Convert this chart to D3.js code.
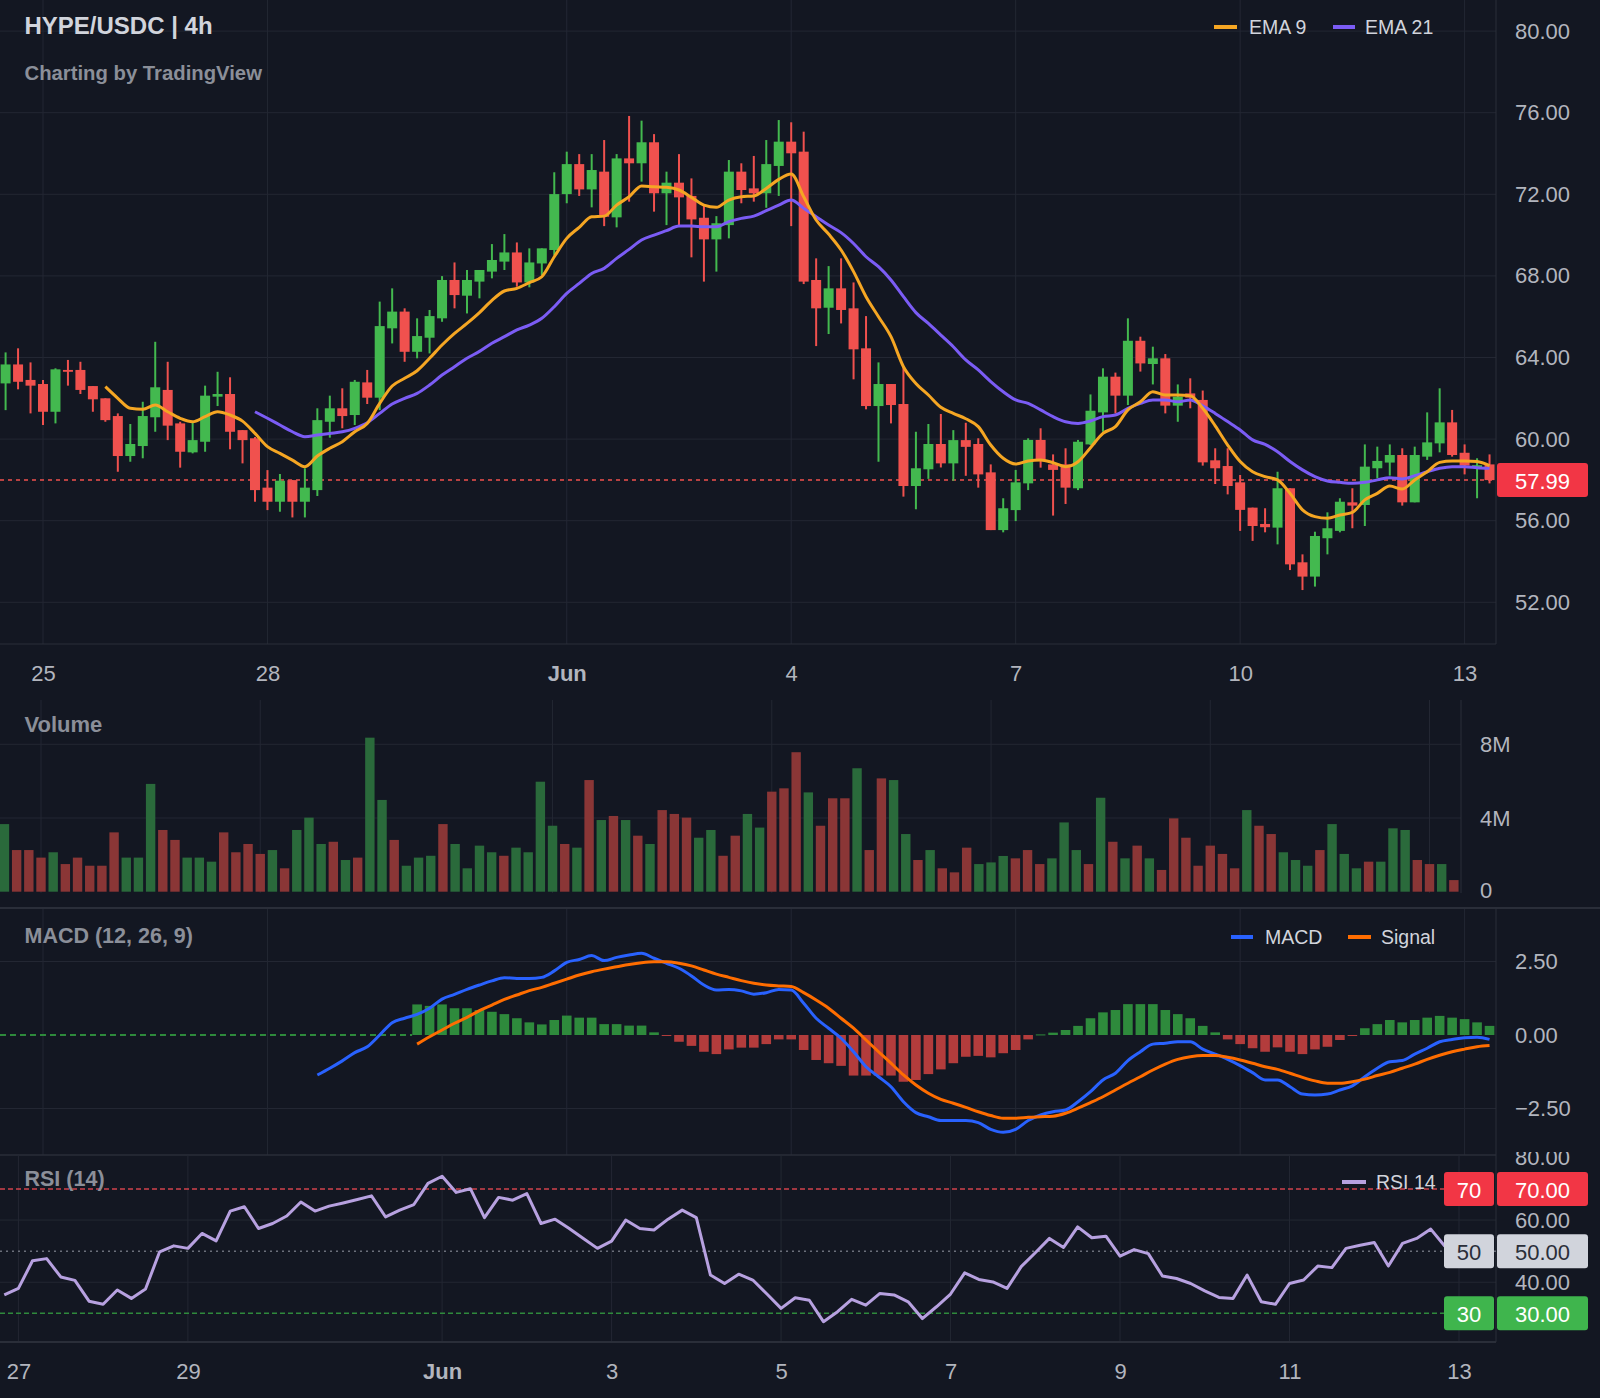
<!DOCTYPE html>
<html><head><meta charset="utf-8">
<script src="https://cdn.jsdelivr.net/npm/d3@7"></script>
<style>body{margin:0;background:#131722;}svg{display:block}</style>
</head><body><svg id="c" width="1600" height="1398"></svg>
<script>
// ---------------- DATA ----------------
// 4h candles, first bar = 2025-05-24 12:00 UTC
const open = [62.73,63.66,62.90,62.70,61.34,63.39,63.39,62.60,62.00,61.13,
59.17,59.66,61.07,62.41,60.77,59.35,59.87,62.08,62.21,60.44,
60.04,57.62,56.93,57.99,56.93,57.50,60.85,61.51,61.18,62.78,
62.03,65.43,66.25,64.28,64.97,65.92,67.80,67.03,67.72,68.21,
68.70,69.15,67.68,68.61,69.27,72.01,73.48,72.24,73.11,70.87,
73.76,73.52,74.55,72.05,72.57,71.92,70.85,69.79,70.49,73.11,
72.29,72.05,73.39,74.58,74.09,67.80,66.44,67.39,66.41,64.45,
61.62,62.70,61.72,57.70,58.52,59.76,58.81,59.95,59.76,58.37,
55.54,56.52,57.83,59.96,58.76,58.76,57.59,59.74,61.31,63.06,
62.13,64.82,63.68,63.96,61.64,62.24,61.92,58.96,58.68,57.88,
56.64,55.84,55.66,57.59,53.96,53.26,55.14,55.50,56.90,56.77,
58.57,58.85,59.22,56.90,59.14,59.79,60.82,59.33,58.60,58.76];
const high = [64.25,64.45,63.76,62.90,63.47,63.88,63.79,62.60,62.00,61.26,
60.74,61.83,64.77,63.79,60.85,60.82,62.62,63.30,63.03,60.44,
60.10,58.48,58.29,57.99,58.57,61.51,62.13,62.49,62.90,63.39,
66.74,67.39,66.41,65.92,66.33,67.99,68.66,68.29,68.29,69.56,
70.05,69.64,69.35,69.35,73.08,74.09,73.97,73.97,74.66,73.97,
75.84,75.61,74.95,73.11,73.97,72.78,71.47,70.93,73.68,73.52,
73.88,74.66,75.64,75.53,75.07,68.86,68.48,68.86,67.68,66.03,
63.76,62.70,63.58,60.36,60.74,61.23,60.44,60.80,60.04,58.76,
57.10,58.49,60.04,60.53,59.25,59.55,59.96,62.19,63.47,63.26,
65.92,65.02,64.53,64.17,62.68,62.98,62.38,59.55,59.55,58.24,
56.64,56.61,58.40,57.59,54.35,55.46,56.41,57.10,57.59,59.74,
59.63,59.74,59.55,59.63,61.31,62.49,61.43,59.74,59.06,59.25];
const low = [61.42,62.44,61.26,60.69,60.77,62.62,62.21,61.34,60.85,58.40,
58.89,59.06,60.36,59.95,58.60,59.30,59.38,61.62,59.50,58.81,
56.93,56.52,56.44,56.16,56.16,57.21,60.07,60.53,60.69,61.72,
61.42,64.69,63.79,63.96,64.20,65.75,66.41,66.16,66.90,67.88,
68.29,67.47,67.44,68.04,69.02,71.56,71.92,71.36,70.44,70.38,
71.64,72.62,71.15,70.49,70.44,68.91,67.72,68.21,69.84,71.56,
71.64,71.34,71.92,70.44,67.60,64.56,65.15,65.67,62.93,61.46,
58.89,60.77,57.18,56.56,58.05,58.61,57.96,58.20,57.62,55.54,
55.43,55.98,57.50,58.60,56.25,56.82,57.50,59.71,60.36,61.26,
61.67,63.31,62.68,61.26,60.85,61.51,58.70,57.80,57.29,55.50,
55.01,55.43,54.84,53.58,52.60,52.77,54.35,55.43,55.63,55.74,
58.08,58.21,56.74,56.90,58.98,59.35,59.14,58.27,57.10,57.83];
const close = [63.66,62.81,62.62,61.34,63.42,63.30,62.41,61.95,60.93,59.17,
59.76,61.13,62.54,60.66,59.38,59.95,62.13,62.21,60.36,59.95,
57.50,56.93,57.96,56.93,57.62,60.93,61.51,61.13,62.81,62.03,
65.54,66.25,64.28,65.05,66.03,67.80,67.06,67.80,68.29,68.78,
69.15,67.68,68.66,69.35,72.01,73.48,72.24,73.19,70.90,73.76,
73.52,74.55,72.05,72.57,71.85,70.77,69.79,70.58,73.11,72.21,
72.05,73.48,74.58,74.01,67.72,66.41,67.39,66.33,64.40,61.62,
62.70,61.67,57.70,58.57,59.76,58.81,59.95,59.62,58.27,55.54,
56.61,57.88,59.96,58.93,58.49,57.62,59.87,61.39,63.06,62.13,
64.82,63.71,63.96,61.64,62.08,62.03,58.86,58.57,57.70,56.53,
55.74,55.68,57.59,53.86,53.26,55.25,55.63,56.93,56.74,58.65,
58.93,59.22,56.90,59.22,59.84,60.82,59.22,58.70,58.72,57.99];
// volume in millions
const volume = [3.67,2.26,2.26,1.85,2.14,1.50,1.85,1.41,1.41,3.22,
1.85,1.85,5.85,3.35,2.81,1.85,1.85,1.63,3.22,2.14,
2.59,2.05,2.26,1.27,3.35,4.02,2.59,2.71,1.72,1.85,
8.36,4.98,2.81,1.41,1.85,1.95,3.67,2.59,1.27,2.50,
2.14,1.95,2.39,2.14,5.97,3.58,2.59,2.39,6.06,3.89,
4.11,3.89,3.04,2.59,4.43,4.22,4.02,2.93,3.35,1.95,
3.04,4.22,3.48,5.43,5.61,7.57,5.39,3.58,5.07,5.07,
6.70,2.26,6.15,6.06,3.13,1.72,2.26,1.27,1.05,2.39,
1.50,1.59,1.94,1.81,2.26,1.50,1.81,3.76,2.26,1.50,
5.10,2.71,1.81,2.50,1.81,1.18,3.98,2.93,1.41,2.50,
2.05,1.27,4.43,3.58,3.13,2.14,1.72,1.41,2.26,3.67,
2.05,1.27,1.63,1.63,3.44,3.35,1.72,1.50,1.50,0.63];
const lastPrice = 57.99;
// EMA 9 starts at bar 8, EMA 21 at bar 20
const ema9Start = 8;
const ema9 = [62.57,62.00,61.51,61.46,61.67,61.34,61.02,60.85,61.10,61.34,
61.18,60.88,60.28,59.63,59.30,58.97,58.65,59.17,59.55,59.87,
60.36,60.77,61.75,62.60,62.98,63.35,63.96,64.61,65.18,65.67,
66.20,66.80,67.26,67.39,67.67,67.96,68.94,69.84,70.38,70.90,
70.93,71.47,71.88,72.41,72.37,72.34,72.21,71.85,71.47,71.36,
71.72,71.88,71.92,72.29,72.73,72.99,71.88,70.74,70.05,69.27,
68.21,66.98,66.00,65.02,63.55,62.73,62.16,61.56,61.26,61.00,
60.61,59.71,59.06,58.78,58.93,58.98,58.84,58.65,58.89,59.58,
60.28,60.61,61.43,61.83,62.32,62.16,62.16,62.13,61.51,60.65,
59.71,58.90,58.40,58.16,58.00,57.34,56.53,56.20,56.12,56.28,
56.41,57.02,57.34,57.70,57.55,58.00,58.40,58.86,58.93,58.93,
58.90,58.70];
const ema21Start = 20;
const ema21 = [61.34,61.02,60.69,60.36,60.12,60.20,60.28,60.36,60.53,60.80,
61.26,61.72,62.00,62.24,62.65,63.14,63.55,63.96,64.30,64.70,
65.02,65.35,65.59,65.92,66.49,67.14,67.63,68.12,68.37,68.86,
69.30,69.76,70.00,70.22,70.44,70.44,70.41,70.41,70.66,70.82,
70.93,71.20,71.47,71.72,71.31,70.90,70.49,70.12,69.59,68.94,
68.45,67.80,66.98,66.20,65.67,65.10,64.53,63.88,63.39,62.82,
62.32,61.92,61.75,61.43,61.10,60.85,60.77,60.89,61.10,61.18,
61.51,61.75,61.92,61.92,61.83,61.92,61.63,61.26,60.86,60.45,
59.96,59.74,59.38,58.90,58.49,58.16,57.95,57.88,57.83,57.88,
58.00,58.11,58.05,58.21,58.40,58.57,58.65,58.65,58.60,58.57];
// MACD (12,26,9)
const macdStart = 25;
const macdLine = [-1.36,-1.13,-0.88,-0.60,-0.40,0.00,0.42,0.57,0.70,0.91,
1.22,1.38,1.55,1.70,1.84,1.95,1.92,1.92,1.96,2.18,
2.47,2.57,2.70,2.53,2.64,2.72,2.78,2.61,2.44,2.27,
2.01,1.70,1.53,1.55,1.50,1.39,1.44,1.55,1.53,
1.08,0.57,0.23,-0.11,-0.57,-1.08,-1.42,-1.76,-2.27,-2.64,
-2.78,-2.91,-2.91,-2.91,-2.98,-3.21,-3.31,-3.21,-2.91,-2.72,
-2.61,-2.55,-2.27,-1.93,-1.53,-1.30,-0.87,-0.57,-0.31,-0.28,
-0.23,-0.23,-0.48,-0.65,-0.83,-1.04,-1.28,-1.53,-1.53,-1.76,
-2.01,-2.04,-2.01,-1.87,-1.73,-1.42,-1.13,-0.91,-0.87,-0.65,
-0.45,-0.23,-0.15,-0.09,-0.08,-0.15];
const signalStart = 33;
const signalLine = [-0.31,-0.06,0.17,0.40,0.60,0.83,1.02,1.21,1.36,1.51,
1.62,1.76,1.90,2.04,2.15,2.24,2.32,2.40,2.46,2.49,
2.49,2.44,2.35,2.21,2.07,1.96,1.85,1.76,1.70,1.67,1.65,
1.44,1.19,0.91,0.57,0.23,-0.17,-0.57,-0.96,-1.36,-1.70,
-1.98,-2.19,-2.32,-2.46,-2.61,-2.74,-2.83,-2.83,-2.80,-2.78,
-2.76,-2.66,-2.49,-2.30,-2.10,-1.87,-1.64,-1.42,-1.19,-0.99,
-0.83,-0.74,-0.70,-0.70,-0.76,-0.85,-0.96,-1.08,-1.17,-1.30,
-1.44,-1.56,-1.64,-1.64,-1.59,-1.50,-1.38,-1.27,-1.13,-0.99,
-0.83,-0.69,-0.57,-0.48,-0.40,-0.36];
const histStart = 33;
const histogram = [1.04,0.99,1.04,0.91,0.91,0.85,0.79,0.71,0.57,0.43,
0.36,0.51,0.66,0.59,0.59,0.37,0.37,0.32,0.32,0.09,
-0.03,-0.23,-0.37,-0.57,-0.65,-0.49,-0.43,-0.43,-0.31,-0.15,
-0.15,-0.51,-0.85,-0.96,-1.05,-1.38,-1.38,-1.38,-1.38,-1.59,
-1.53,-1.33,-1.17,-0.96,-0.74,-0.71,-0.76,-0.62,-0.51,-0.15,
0.02,0.08,0.17,0.31,0.57,0.77,0.85,1.05,1.05,1.05,
0.85,0.71,0.57,0.31,0.09,-0.15,-0.31,-0.45,-0.57,-0.42,
-0.57,-0.65,-0.49,-0.40,-0.17,-0.03,0.23,0.37,0.51,0.43,
0.51,0.59,0.65,0.59,0.54,0.43,0.31];
// RSI 14 (own time range, first point 2025-05-26 20:00 UTC)
const rsi = [35.9,38.0,46.9,47.6,41.7,40.6,33.9,32.9,37.5,34.8,
37.8,49.8,51.7,50.9,55.7,53.3,62.9,64.3,57.3,58.9,
61.3,65.8,62.9,64.5,65.5,66.6,67.8,61.0,63.2,65.0,
71.8,74.1,68.9,70.1,60.8,67.3,66.4,68.5,58.9,60.3,
57.3,54.1,50.9,53.2,60.0,57.3,56.8,60.3,63.2,60.8,
42.3,39.6,42.6,40.7,36.2,31.6,35.0,
34.2,27.3,30.5,34.5,32.6,36.4,35.9,33.7,28.3,32.1,
36.2,43.0,40.9,40.1,38.0,45.0,49.5,54.1,51.2,57.8,
54.3,54.8,48.4,50.5,49.2,42.0,41.2,39.6,37.2,35.1,
34.8,42.3,33.7,32.9,39.6,40.7,45.2,44.7,50.9,51.9,
52.8,45.2,52.5,54.1,57.1,51.6];
// ticks
const priceTicks = [52,56,60,64,68,72,76,80];
const volTicks = [0,4,8];
const volTickLabels = ["0","4M","8M"];
const macdTicks = [-2.5,0,2.5];
const rsiTicks = [40,60,80];
const rsiLevels = [70,50,30];
const dayTicks = ["2025-05-25","2025-05-28","2025-06-01","2025-06-04","2025-06-07","2025-06-10","2025-06-13"];
const rsiDayTicks = ["2025-05-27","2025-05-29","2025-06-01","2025-06-03","2025-06-05","2025-06-07","2025-06-09","2025-06-11","2025-06-13"];

// ---------------- SETUP ----------------
const FONT = "'Liberation Sans', Arial, sans-serif";
const AX = 22;
const C = {bg:"#131722", grid:"#232733", border:"#2a2e39", axis:"#b2b5be", label:"#8b8f99",
  title:"#d1d4dc", up:"#43b94f", down:"#f0514e", vup:"#2a6a3b", vdown:"#8a3636",
  ema9:"#f5a623", ema21:"#7b5cf5", macd:"#2962ff", signal:"#ff6d00",
  hup:"#2e8a3c", hdown:"#b33c3c", rsi:"#b7a1e0"};
const H4 = 4*3600*1000;
const firstBar = Date.UTC(2025,4,24,12);
const rsiFirst = Date.UTC(2025,4,26,20);
const barTime = i => new Date(firstBar + i*H4);
const rsiTime = i => new Date(rsiFirst + i*H4);
const toDate = s => new Date(s + "T00:00:00Z");
const fmtTick = d => d.getUTCDate()===1 ? d3.utcFormat("%b")(d) : d3.utcFormat("%-d")(d);

const svg = d3.select("#c");
svg.append("rect").attr("width",1600).attr("height",1398).attr("fill",C.bg);

const dom = [toDate("2025-05-25"), toDate("2025-06-13")];
const xP = d3.scaleUtc().domain(dom).range([43,1464.6]);
const xV = d3.scaleUtc().domain(dom).range([41,1429.5]);
const xR = d3.scaleUtc().domain([toDate("2025-05-27"), toDate("2025-06-13")]).range([18.4,1459]);
const yP = d3.scaleLinear().domain([52,80]).range([602.3,31.1]);
const yV = d3.scaleLinear().domain([0,8]).range([891.7,744.3]);
const yM = d3.scaleLinear().domain([-2.5,2.5]).range([1108.5,961.5]);
const yR = d3.scaleLinear().domain([30,70]).range([1313.3,1189]);

const defs = svg.append("defs");
function clip(id,x,y,w,h){defs.append("clipPath").attr("id",id).append("rect").attr("x",x).attr("y",y).attr("width",w).attr("height",h);}
clip("cp",0,0,1496,644); clip("cv",0,700,1461,193); clip("cm",0,909,1496,245); clip("cr",0,1155,1496,187); clip("cra",1440,1152,160,246);

function hline(g,y,x1,x2,col,w,dash){const l=g.append("line").attr("x1",x1).attr("x2",x2).attr("y1",y).attr("y2",y).attr("stroke",col).attr("stroke-width",w||1);if(dash)l.attr("stroke-dasharray",dash);return l;}
function vline(g,x,y1,y2,col,w){return g.append("line").attr("x1",x).attr("x2",x).attr("y1",y1).attr("y2",y2).attr("stroke",col).attr("stroke-width",w||1);}
function text(g,x,y,s,opt){opt=opt||{};return g.append("text").attr("x",x).attr("y",y).text(s)
  .attr("font-family",FONT).attr("font-size",opt.size||AX).attr("font-weight",opt.weight||"normal")
  .attr("fill",opt.fill||C.axis).attr("text-anchor",opt.anchor||"start").attr("dominant-baseline","central");}

// ---------------- PRICE PANEL ----------------
const gP = svg.append("g");
priceTicks.forEach(p=>hline(gP,yP(p),0,1496,C.grid));
dayTicks.forEach(d=>vline(gP,xP(toDate(d)),0,644,C.grid));
vline(gP,1496,0,644,C.border);
hline(gP,644,0,1496,C.border);
const gPc = gP.append("g").attr("clip-path","url(#cp)");
hline(gPc,yP(lastPrice),0,1496,C.down,1.5,"4,4");
const bars = open.map((o,i)=>({t:barTime(i),o,h:high[i],l:low[i],c:close[i],v:volume[i]}));
const cg = gPc.selectAll("g.candle").data(bars).join("g");
cg.append("line").attr("x1",d=>xP(d.t)).attr("x2",d=>xP(d.t)).attr("y1",d=>yP(d.h)).attr("y2",d=>yP(d.l))
  .attr("stroke",d=>d.c>=d.o?C.up:C.down).attr("stroke-width",2);
cg.append("rect").attr("x",d=>xP(d.t)-5).attr("width",10)
  .attr("y",d=>yP(Math.max(d.o,d.c))).attr("height",d=>Math.max(1.5,Math.abs(yP(d.o)-yP(d.c))))
  .attr("fill",d=>d.c>=d.o?C.up:C.down);
const lineP = off => d3.line().x((d,i)=>xP(barTime(i+off))).y(d=>yP(d)).curve(d3.curveMonotoneX);
gPc.append("path").attr("d",lineP(ema21Start)(ema21)).attr("fill","none").attr("stroke",C.ema21).attr("stroke-width",3);
gPc.append("path").attr("d",lineP(ema9Start)(ema9)).attr("fill","none").attr("stroke",C.ema9).attr("stroke-width",3);

const axP = d3.axisRight(yP).tickValues(priceTicks).tickFormat(d3.format(".2f")).tickSize(0).tickPadding(19);
const gax = svg.append("g").attr("transform","translate(1496,0)").call(axP);
gax.select(".domain").remove();
gax.selectAll("text").attr("font-family",FONT).attr("font-size",AX).attr("fill",C.axis);
// last price tag
svg.append("rect").attr("x",1497).attr("y",yP(lastPrice)-17).attr("width",91).attr("height",34).attr("rx",3).attr("fill","#f23645");
text(svg,1515,yP(lastPrice)+1,d3.format(".2f")(lastPrice),{fill:"#ffffff"});

const axX = d3.axisBottom(xP).tickValues(dayTicks.map(toDate)).tickFormat(fmtTick).tickSize(0).tickPadding(21);
const gx = svg.append("g").attr("transform","translate(0,644)").call(axX);
gx.select(".domain").remove();
gx.selectAll("text").attr("font-family",FONT).attr("font-size",AX).attr("fill",C.axis)
  .attr("font-weight",d=>d.getUTCDate()===1?"bold":"normal");

text(svg,24.5,25.5,"HYPE/USDC | 4h",{size:24,weight:"bold",fill:C.title});
text(svg,24.5,72.5,"Charting by TradingView",{size:20.3,weight:"bold",fill:C.label});
// legend
hline(svg,27,1214,1237,C.ema9,4); text(svg,1249,27,"EMA 9",{size:19.5,fill:C.title});
hline(svg,27,1333,1355,C.ema21,4); text(svg,1365,27,"EMA 21",{size:19.5,fill:C.title});

// ---------------- VOLUME PANEL ----------------
const gV = svg.append("g");
[4,8].forEach(v=>hline(gV,yV(v),0,1461,C.grid));
dayTicks.forEach(d=>vline(gV,xV(toDate(d)),700,893,C.grid));
vline(gV,1461,700,893,C.border);
gV.append("g").attr("clip-path","url(#cv)").selectAll("rect").data(bars).join("rect")
  .attr("x",d=>xV(d.t)-4.7).attr("width",9.4).attr("y",d=>yV(d.v)).attr("height",d=>yV(0)-yV(d.v))
  .attr("fill",d=>d.c>=d.o?C.vup:C.vdown);
volTicks.forEach((v,i)=>text(svg,1480,yV(v)-(v===0?1.5:0),volTickLabels[i]));
text(svg,24.5,724.5,"Volume",{size:22,weight:"bold",fill:C.label});

// ---------------- MACD PANEL ----------------
const gM = svg.append("g");
hline(gM,908,0,1600,C.border,2);
[2.5,-2.5].forEach(v=>hline(gM,yM(v),0,1496,C.grid));
dayTicks.forEach(d=>vline(gM,xP(toDate(d)),909,1155,C.grid));
vline(gM,1496,909,1155,C.border);
const gMc = gM.append("g").attr("clip-path","url(#cm)");
hline(gMc,yM(0),0,xP(barTime(histStart))-5,C.hup,2,"6,4");
gMc.selectAll("rect.h").data(histogram).join("rect")
  .attr("x",(d,i)=>xP(barTime(i+histStart))-4.8).attr("width",9.6)
  .attr("y",d=>d>=0?yM(d):yM(0)).attr("height",d=>Math.max(1,Math.abs(yM(d)-yM(0))))
  .attr("fill",d=>d>=0?C.hup:C.hdown);
const lineM = off => d3.line().x((d,i)=>xP(barTime(i+off))).y(d=>yM(d)).curve(d3.curveMonotoneX);
gMc.append("path").attr("d",lineM(macdStart)(macdLine)).attr("fill","none").attr("stroke",C.macd).attr("stroke-width",3);
gMc.append("path").attr("d",lineM(signalStart)(signalLine)).attr("fill","none").attr("stroke",C.signal).attr("stroke-width",3);
macdTicks.forEach(v=>text(svg,1515,yM(v),d3.format(".2f")(v)));
text(svg,24.5,936,"MACD (12, 26, 9)",{size:21.5,weight:"bold",fill:C.label});
hline(svg,937,1231,1253,C.macd,4); text(svg,1265,937,"MACD",{size:19.5,fill:C.title});
hline(svg,937,1348,1371,C.signal,4); text(svg,1381,937,"Signal",{size:19.5,fill:C.title});

// ---------------- RSI PANEL ----------------
const gR = svg.append("g");
hline(gR,1155,0,1496,C.border,1.5);
[40,60].forEach(v=>hline(gR,yR(v),0,1496,C.grid));
rsiDayTicks.forEach(d=>vline(gR,xR(toDate(d)),1155,1342,C.grid));
hline(gR,1342,0,1496,C.border,2);
vline(gR,1496,1155,1342,C.border);
hline(gR,yR(70),0,1496,"#d0434c",1.5,"5,3");
hline(gR,yR(50),0,1496,"#6b6f7a",1.5,"2,4");
hline(gR,yR(30),0,1496,"#2f8a3c",1.5,"5,3");
const lineR = d3.line().x((d,i)=>xR(rsiTime(i))).y(d=>yR(d));
gR.append("g").attr("clip-path","url(#cr)").append("path").attr("d",lineR(rsi))
  .attr("fill","none").attr("stroke",C.rsi).attr("stroke-width",3).attr("stroke-linejoin","round");
const gRa = svg.append("g").attr("clip-path","url(#cra)");
rsiTicks.forEach(v=>text(gRa,1515,yR(v),d3.format(".2f")(v)));
const lvlStyle = {70:{bg:"#f23645",fg:"#ffffff"},50:{bg:"#d1d4dc",fg:"#2a2e39"},30:{bg:"#3fb54d",fg:"#ffffff"}};
rsiLevels.forEach(v=>{
  const s = lvlStyle[v], y = yR(v);
  gRa.append("rect").attr("x",1444).attr("y",y-17).attr("width",50).attr("height",34).attr("rx",3).attr("fill",s.bg);
  text(gRa,1469,y+1,String(v),{fill:s.fg,anchor:"middle"});
  gRa.append("rect").attr("x",1497).attr("y",y-17).attr("width",91).attr("height",34).attr("rx",3).attr("fill",s.bg);
  text(gRa,1515,y+1,d3.format(".2f")(v),{fill:s.fg});
});
text(svg,24.5,1178.5,"RSI (14)",{size:21.5,weight:"bold",fill:C.label});
hline(svg,1182,1342,1366,C.rsi,4); text(svg,1376,1182,"RSI 14",{size:19.5,fill:C.title});
const axR = d3.axisBottom(xR).tickValues(rsiDayTicks.map(toDate)).tickFormat(fmtTick).tickSize(0).tickPadding(21);
const gxr = svg.append("g").attr("transform","translate(0,1342)").call(axR);
gxr.select(".domain").remove();
gxr.selectAll("text").attr("font-family",FONT).attr("font-size",AX).attr("fill",C.axis)
  .attr("font-weight",d=>d.getUTCDate()===1?"bold":"normal");
</script></body></html>
